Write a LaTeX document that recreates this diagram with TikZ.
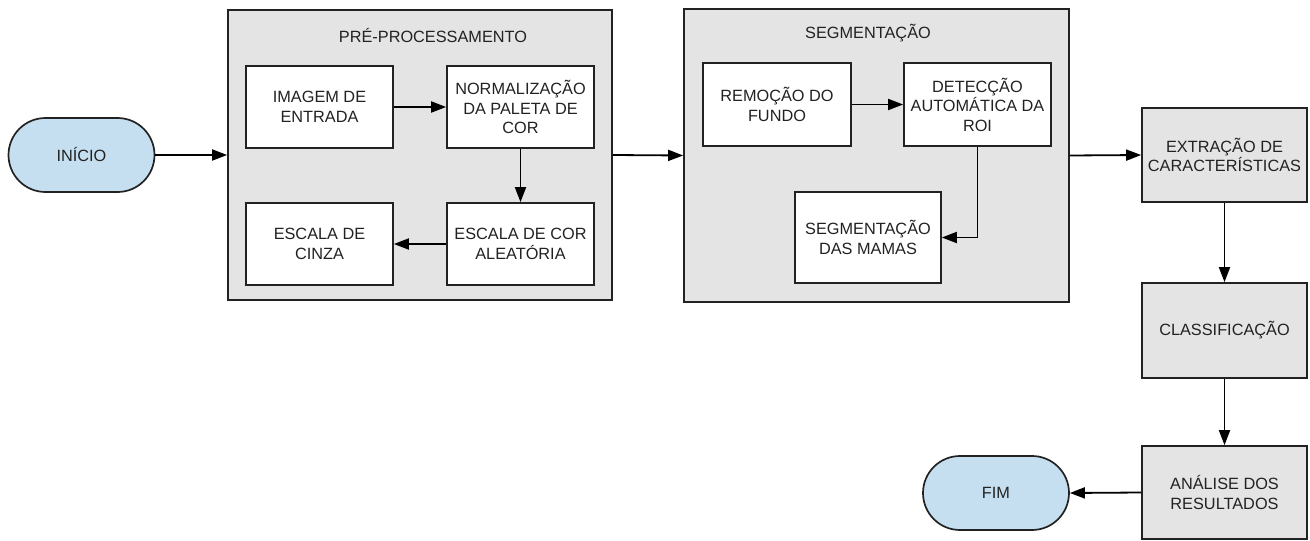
\documentclass[tikz,border=0pt]{standalone}
\usepackage{fontspec}
\setmainfont{Liberation Sans}
\usetikzlibrary{arrows.meta}
\definecolor{boxgray}{RGB}{228,228,228}
\definecolor{termblue}{RGB}{197,223,240}
\definecolor{ink}{RGB}{34,34,34}
\begin{document}
\begin{tikzpicture}[x=1pt,y=-1pt,
  font=\fontsize{16.3}{19.5}\selectfont,
  every node/.style={text=ink, align=center, inner sep=2pt},
  group/.style={draw=ink, fill=boxgray, line width=1.7pt, anchor=center},
  proc/.style={draw=ink, fill=white, line width=1.7pt, anchor=center, minimum width=147pt, minimum height=82pt},
  stage/.style={draw=ink, fill=boxgray, line width=1.7pt, anchor=center, minimum width=165pt},
  term/.style={draw=ink, fill=termblue, line width=1.7pt, rounded corners=37pt, minimum width=146pt, minimum height=74pt, anchor=center},
  flow/.style={draw=black, line width=1.8pt, -{Triangle[length=15pt,width=11pt]}}
]
\useasboundingbox (0,0) rectangle (1310,541);

% start
\node[term] (inicio) at (81.5,155) {INÍCIO};

% pre-processing group
\node[group, minimum width=384pt, minimum height=290pt] (pre) at (420,155) {};
\node (pretitle) at (433,36) {PRÉ-PROCESSAMENTO};
\node[proc] (img) at (319.5,107) {IMAGEM DE\\ENTRADA};
\node[proc] (norm) at (520.5,107) {NORMALIZAÇÃO\\DA PALETA DE\\COR};
\node[proc] (cor) at (520.5,244) {ESCALA DE COR\\ALEATÓRIA};
\node[proc] (cinza) at (319.5,244) {ESCALA DE\\CINZA};

% segmentation group
\node[group, minimum width=385pt, minimum height=293pt] (seg) at (876.5,155.5) {};
\node (segtitle) at (868,33) {SEGMENTAÇÃO};
\node[proc, minimum width=148pt, minimum height=83pt] (rem) at (777,104.5) {REMOÇÃO DO\\FUNDO};
\node[proc, minimum height=83pt] (det) at (977.5,104.5) {DETECÇÃO\\AUTOMÁTICA DA\\ROI};
\node[proc, minimum width=146pt, minimum height=91pt] (mamas) at (868,237.5) {SEGMENTAÇÃO\\DAS MAMAS};

% right column
\node[stage, minimum height=94pt] (extr) at (1224.5,155) {EXTRAÇÃO DE\\CARACTERÍSTICAS};
\node[stage, minimum height=95pt] (cls) at (1224.5,330.5) {CLASSIFICAÇÃO};
\node[stage, minimum height=93pt] (ana) at (1224.5,492.5) {ANÁLISE DOS\\RESULTADOS};

% end
\node[term] (fim) at (996,493) {FIM};

% connectors
\draw[flow] (inicio.east) -- (pre.west);
\draw[flow] (img.east) -- (norm.west);
\draw[flow] (norm.south) -- (cor.north);
\draw[flow] (cor.west) -- (cinza.east);
\draw[flow] (pre.east) -- (seg.west);
\draw[flow] (rem.east) -- (det.west);
\draw[flow] (det.south) |- (mamas.east);
\draw[flow] (seg.east) -- (extr.west);
\draw[flow] (extr.south) -- (cls.north);
\draw[flow] (cls.south) -- (ana.north);
\draw[flow] (ana.west) -- (fim.east);
\end{tikzpicture}
\end{document}
